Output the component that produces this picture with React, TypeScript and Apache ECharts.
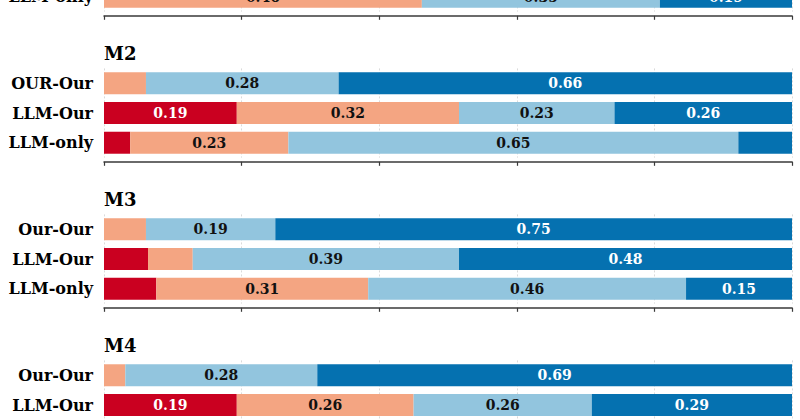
import React, { useEffect, useRef } from "react";
import * as echarts from "echarts";

// ---- data ----
const PANELS = ["M1", "M2", "M3", "M4"];
const ROWS_M1 = ["Our-Our", "LLM-Our", "LLM-only"];
const ROWS_M2 = ["OUR-Our", "LLM-Our", "LLM-only"];
const ROWS_M3 = ["Our-Our", "LLM-Our", "LLM-only"];
const ROWS_M4 = ["Our-Our", "LLM-Our", "LLM-only"];

// share of each level per row (rows outside the visible crop are null)
const L1_M1 = [null, null, 0];
const L2_M1 = [null, null, 0.462];
const L3_M1 = [null, null, 0.346];
const L4_M1 = [null, null, 0.192];

const L1_M2 = [0, 0.193, 0.038];
const L2_M2 = [0.061, 0.323, 0.23];
const L3_M2 = [0.28, 0.226, 0.654];
const L4_M2 = [0.659, 0.258, 0.078];

const L1_M3 = [0, 0.064, 0.076];
const L2_M3 = [0.061, 0.065, 0.308];
const L3_M3 = [0.188, 0.387, 0.462];
const L4_M3 = [0.751, 0.484, 0.154];

const L1_M4 = [0, 0.193, null];
const L2_M4 = [0.031, 0.257, null];
const L3_M4 = [0.279, 0.259, null];
const L4_M4 = [0.69, 0.291, null];

const LEVELS = ["Level 1", "Level 2", "Level 3", "Level 4"];
const X_MIN = 0;
const X_MAX = 1;
const X_STEP = 0.2;
const LABEL_MIN = 0.1;

// ---- styles ----
const COLORS = ["#ca0020", "#f4a582", "#92c5de", "#0571b0"];
const LABEL_COLORS = ["#ffffff", "#111111", "#111111", "#ffffff"];
const FONT = "DejaVu Serif";

export default function App() {
  const ref = useRef<HTMLDivElement>(null);

  useEffect(() => {
    if (!ref.current) return;
    const chart = echarts.init(ref.current, undefined, { renderer: "svg" });

    const rows = [ROWS_M1, ROWS_M2, ROWS_M3, ROWS_M4];
    const values = [
      [L1_M1, L2_M1, L3_M1, L4_M1],
      [L1_M2, L2_M2, L3_M2, L4_M2],
      [L1_M3, L2_M3, L3_M3, L4_M3],
      [L1_M4, L2_M4, L3_M4, L4_M4],
    ];

    const pitch = 146;
    const gridTop0 = 68.4 - pitch;
    const gridH = 89.2;
    const titleTop0 = 44 - pitch;

    const grids: any[] = [];
    const xAxes: any[] = [];
    const yAxes: any[] = [];
    const titles: any[] = [];
    const series: any[] = [];

    PANELS.forEach((p, i) => {
      grids.push({
        left: 104,
        right: 8,
        top: gridTop0 + pitch * i,
        height: gridH,
        containLabel: false,
        outerBoundsMode: "none",
      });
      titles.push({
        text: p,
        left: 104,
        top: titleTop0 + pitch * i,
        padding: 0,
        textStyle: {
          fontFamily: FONT,
          fontWeight: "bold",
          fontSize: 18,
          color: "#000",
        },
      });
      xAxes.push({
        type: "value",
        gridIndex: i,
        position: "bottom",
        min: X_MIN,
        max: X_MAX,
        interval: X_STEP,
        offset: 4.2,
        axisLine: { show: true, onZero: false, lineStyle: { color: "#3a3a3a", width: 1.5 } },
        axisTick: { show: true, length: 4, lineStyle: { color: "#3a3a3a", width: 1.2 } },
        axisLabel: { show: false },
        splitLine: {
          show: true,
          lineStyle: { color: "#d0d0d0", type: [2, 2], width: 0.8 },
        },
      });
      yAxes.push({
        type: "category",
        gridIndex: i,
        inverse: true,
        data: rows[i],
        axisLine: { show: false },
        axisTick: { show: false },
        splitLine: { show: false },
        axisLabel: {
          margin: 11,
          fontFamily: FONT,
          fontWeight: "bold",
          fontSize: 16,
          color: "#000",
        },
      });
      LEVELS.forEach((lv, k) => {
        series.push({
          type: "bar",
          name: lv,
          xAxisIndex: i,
          yAxisIndex: i,
          stack: p,
          barWidth: 22,
          data: values[i][k],
          itemStyle: { color: COLORS[k] },
          label: {
            show: true,
            position: "inside",
            fontFamily: FONT,
            fontWeight: "bold",
            fontSize: 14,
            color: LABEL_COLORS[k],
            formatter: (prm: any) =>
              prm.value == null || prm.value < LABEL_MIN ? "" : Number(prm.value).toFixed(2),
          },
          emphasis: { disabled: true },
        });
      });
    });

    chart.setOption({
      animation: false,
      backgroundColor: "#ffffff",
      title: titles,
      grid: grids,
      xAxis: xAxes,
      yAxis: yAxes,
      series,
    });

    return () => chart.dispose();
  }, []);

  return (
    <div
      ref={ref}
      style={{ position: "absolute", left: 0, top: 0, width: 800, height: 420 }}
    />
  );
}
